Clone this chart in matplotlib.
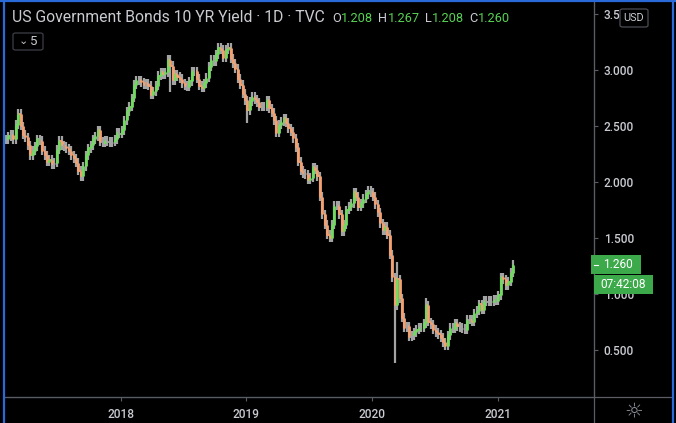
import matplotlib
matplotlib.use('Agg')
import matplotlib.pyplot as plt
import matplotlib.dates as mdates
from matplotlib.patches import FancyBboxPatch, Rectangle
from matplotlib.lines import Line2D
import numpy as np
import pandas as pd

# ---------------- data (weekly closes) ----------------
first_week = '2017-02-03'
closes = [
    2.38, 2.41, 2.42, 2.38, 2.51, 2.61, 2.50, 2.42, 2.40, 2.33,
    2.24, 2.28, 2.32, 2.38, 2.37, 2.28, 2.24, 2.18, 2.20, 2.16,
    2.17, 2.29, 2.37, 2.33, 2.32, 2.30, 2.28, 2.24, 2.21, 2.17,
    2.10, 2.05, 2.14, 2.24, 2.30, 2.33, 2.38, 2.41, 2.46, 2.36,
    2.35, 2.37, 2.36, 2.35, 2.36, 2.38, 2.44, 2.43, 2.46, 2.55,
    2.63, 2.67, 2.75, 2.87, 2.91, 2.91, 2.89, 2.87, 2.88, 2.86,
    2.78, 2.81, 2.86, 2.95, 2.98, 2.96, 2.98, 3.09, 3.04, 2.91,
    2.96, 2.94, 2.92, 2.88, 2.86, 2.85, 2.90, 2.99, 2.99, 2.92,
    2.86, 2.84, 2.88, 2.93, 3.03, 3.09, 3.08, 3.14, 3.20, 3.18,
    3.11, 3.18, 3.20, 3.10, 3.06, 3.01, 2.92, 2.87, 2.79, 2.73,
    2.64, 2.72, 2.76, 2.74, 2.71, 2.67, 2.67, 2.67, 2.73, 2.66,
    2.62, 2.55, 2.44, 2.51, 2.54, 2.57, 2.53, 2.48, 2.45, 2.39,
    2.31, 2.18, 2.10, 2.08, 2.07, 2.02, 2.04, 2.13, 2.11, 2.05,
    1.87, 1.71, 1.62, 1.53, 1.50, 1.62, 1.79, 1.79, 1.71, 1.56,
    1.62, 1.75, 1.78, 1.81, 1.91, 1.87, 1.78, 1.81, 1.85, 1.89,
    1.92, 1.91, 1.87, 1.80, 1.73, 1.63, 1.57, 1.60, 1.53, 1.35,
    1.15, 0.90, 1.13, 0.96, 0.79, 0.70, 0.71, 0.62, 0.63, 0.66,
    0.68, 0.70, 0.70, 0.74, 0.90, 0.75, 0.73, 0.68, 0.66, 0.64,
    0.61, 0.57, 0.54, 0.63, 0.70, 0.69, 0.74, 0.71, 0.70, 0.69,
    0.68, 0.77, 0.77, 0.75, 0.83, 0.85, 0.91, 0.86, 0.94, 0.93,
    0.94, 0.93, 0.95, 0.94, 0.99, 1.15, 1.13, 1.08, 1.11, 1.19,
    1.26,
]
spike_low_dates = ['2018-05-25', '2019-01-04', '2020-03-06']
spike_low_values = [2.80, 2.53, 0.38]
spike_high_dates = ['2020-03-13', '2020-06-05']
spike_high_values = [1.29, 0.96]

y_ticks = [0.5, 1.0, 1.5, 2.0, 2.5, 3.0, 3.5]
y_tick_labels = ['0.500', '1.000', '1.500', '2.000', '2.500', '3.000', '3.5']
x_tick_years = ['2018', '2019', '2020', '2021']
title_text = 'US Government Bonds 10 YR Yield · 1D · TVC'
ohlc_keys = ['O', 'H', 'L', 'C']
ohlc_vals = ['1.208', '1.267', '1.208', '1.260']
last_price = '1.260'
countdown = '07:42:08'
interval_badge = '5'

# ---------------- styling ----------------
W, H = 676, 423
BG = '#000000'
UP = '#6fdc5e'
DOWN = '#f4a070'
FLAT = '#a3a3a3'
TXT = '#c9cbd1'
AXC = '#5a5d66'
BLUE = '#2a6ad8'
LABEL_GREEN = '#3ca94a'
FONT = ['Roboto', 'DejaVu Sans']
plt.rcParams['font.family'] = FONT

fig = plt.figure(figsize=(W / 100, H / 100), dpi=100, facecolor=BG)

def fx(x):
    return x / W

def fy(y):
    return 1 - y / H

# plot area in pixels
L_, R_, T_, B_ = 5, 594, 3, 397
ax = fig.add_axes([fx(L_), fy(B_), fx(R_ - L_), (B_ - T_) / H], facecolor=BG)

dates = pd.date_range(first_week, periods=len(closes), freq='7D')
c = np.array(closes)
o = np.concatenate([[c[0]], c[:-1]])
wick = 0.04
hi = np.maximum(o, c) + wick
lo = np.minimum(o, c) - wick
for d, v in zip(spike_low_dates, spike_low_values):
    i = dates.get_loc(pd.Timestamp(d))
    lo[i] = min(lo[i], v)
for d, v in zip(spike_high_dates, spike_high_values):
    i = dates.get_loc(pd.Timestamp(d))
    hi[i] = max(hi[i], v)

cols = [UP if cc - oo > 0.012 else (DOWN if oo - cc > 0.012 else FLAT) for oo, cc in zip(o, c)]
xd = mdates.date2num(dates)
ax.vlines(xd, lo, hi, colors=FLAT, linewidth=1.6)
ax.vlines(xd, np.minimum(o, c), np.maximum(o, c), colors=cols, linewidth=2.0)
ax.hlines(o, xd - 3.2, xd, colors=cols, linewidth=1.3)
ax.hlines(c, xd, xd + 3.2, colors=cols, linewidth=1.3)

# axis limits matching the reference pixel scale
x_left = pd.Timestamp('2017-01-31')
x_right = pd.Timestamp('2021-10-05')
ax.set_xlim(mdates.date2num(x_left), mdates.date2num(x_right))
ax.set_ylim(0.5 + (350 - B_) / 112, 0.5 + (350 - T_) / 112)

for s in ['top', 'left']:
    ax.spines[s].set_visible(False)
ax.spines['right'].set_color(AXC)
ax.spines['bottom'].set_color(AXC)
ax.yaxis.tick_right()
ax.set_yticks(y_ticks)
ax.set_yticklabels(y_tick_labels)
ax.set_xticks([mdates.date2num(pd.Timestamp(f'{y}-01-01')) for y in x_tick_years])
ax.set_xticklabels(x_tick_years)
ax.tick_params(axis='y', colors=AXC, labelcolor=TXT, length=3, width=0.8, pad=4, labelsize=8.6)
ax.tick_params(axis='x', colors=AXC, labelcolor=TXT, length=3, width=0.8, pad=5, labelsize=8.6)
for lab in ax.get_xticklabels() + ax.get_yticklabels():
    lab.set_fontweight('medium')

# separators extending beyond the axes
fig.add_artist(Line2D([fx(R_), fx(R_)], [fy(0), fy(H)], color=AXC, linewidth=0.9))
fig.add_artist(Line2D([fx(L_), fx(672)], [fy(B_), fy(B_)], color=AXC, linewidth=0.9))

# blue frame
fig.add_artist(Line2D([fx(3.5), fx(3.5)], [0, 1], color=BLUE, linewidth=1.6))
fig.add_artist(Line2D([fx(673), fx(673)], [0, 1], color=BLUE, linewidth=1.6))
fig.add_artist(Line2D([0, 1], [fy(1), fy(1)], color=BLUE, linewidth=1.6))

# title
fig.text(fx(12), fy(18), title_text, color=TXT, fontsize=11.3, va='center', ha='left')

renderer = fig.canvas.get_renderer()
x_cur = 332
for k, v in zip(ohlc_keys, ohlc_vals):
    t1 = fig.text(fx(x_cur), fy(18), k, color=TXT, fontsize=9.2, va='center', ha='left')
    x_cur += t1.get_window_extent(renderer).width + 0.5
    t2 = fig.text(fx(x_cur), fy(18), v, color='#57d153', fontsize=9.2, va='center', ha='left')
    x_cur += t2.get_window_extent(renderer).width + 5

# interval badge
fig.add_artist(FancyBboxPatch((fx(13), fy(50)), fx(30), 17 / H,
                              boxstyle='round,pad=0,rounding_size=0.004',
                              facecolor=BG, edgecolor='#3c3f47', linewidth=0.9))
fig.text(fx(23), fy(41.5), '⌄', color=TXT, fontsize=8, va='center', ha='center')
fig.text(fx(34), fy(41.5), interval_badge, color=TXT, fontsize=9.5, va='center', ha='center')

# USD badge
fig.add_artist(FancyBboxPatch((fx(620), fy(27)), fx(28), 18 / H,
                              boxstyle='round,pad=0,rounding_size=0.004',
                              facecolor=BG, edgecolor='#4a4d55', linewidth=0.9, zorder=5))
fig.text(fx(634), fy(18), 'USD', color=TXT, fontsize=7.8, va='center', ha='center', zorder=6)

# last price and countdown labels
fig.add_artist(Rectangle((fx(591), fy(274)), fx(50), 19 / H, facecolor=LABEL_GREEN,
                         edgecolor='none', zorder=5))
fig.text(fx(603), fy(264.5), last_price, color='white', fontsize=8.6, va='center', ha='left', zorder=6)
fig.add_artist(Line2D([fx(594), fx(598)], [fy(264.5), fy(264.5)], color='white', linewidth=0.8, zorder=6))
fig.add_artist(Rectangle((fx(594), fy(294)), fx(59), 19 / H, facecolor=LABEL_GREEN,
                         edgecolor='none', zorder=5))
fig.text(fx(623.5), fy(284.5), countdown, color='white', fontsize=8.6, va='center', ha='center', zorder=6)

# settings (sun) icon
fig.text(fx(634), fy(411), '☼', color='#8a8d96', fontsize=15, va='center', ha='center',
         family=['DejaVu Sans'])

fig.savefig('out.png', dpi=100, facecolor=BG)
